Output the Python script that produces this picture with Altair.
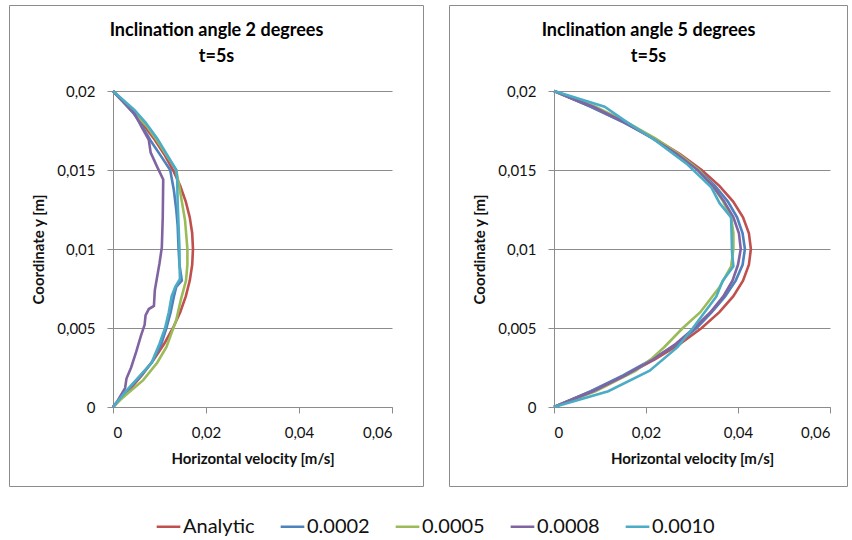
import altair as alt
import pandas as pd

SERIES = ["Analytic", "0.0002", "0.0005", "0.0008", "0.0010"]
COLORS = ["#C0504D", "#4F81BD", "#9BBB59", "#8064A2", "#4BACC6"]

Y21 = [0, 0.001, 0.002, 0.003, 0.004, 0.005, 0.006, 0.007, 0.008, 0.009, 0.010,
       0.011, 0.012, 0.013, 0.014, 0.015, 0.016, 0.017, 0.018, 0.019, 0.020]

# ---- Inclination angle 2 degrees ----
L_analytic_y = Y21
L_analytic_v = [0, 0.00327, 0.00619, 0.00877, 0.01101, 0.0129, 0.01445, 0.01565, 0.01651, 0.01703, 0.0172,
                0.01703, 0.01651, 0.01565, 0.01445, 0.0129, 0.01101, 0.00877, 0.00619, 0.00327, 0]

L_0002_y = [0, 0.0009, 0.002, 0.0028, 0.004, 0.005, 0.006, 0.007, 0.0076, 0.0080, 0.0090,
            0.0100, 0.0115, 0.0125, 0.0137, 0.0150, 0.0158, 0.0169, 0.0178, 0.0186, 0.0200]
L_0002_v = [0, 0.0026, 0.0060, 0.0083, 0.0104, 0.0115, 0.0124, 0.0131, 0.0136, 0.0148, 0.0143,
            0.0141, 0.0139, 0.0136, 0.0131, 0.0123, 0.0105, 0.0080, 0.0062, 0.0044, 0]

L_0005_y = [0, 0.00044, 0.0017, 0.0028, 0.0038, 0.0055, 0.0068, 0.0080, 0.0090, 0.0100,
            0.0118, 0.0137, 0.0150, 0.0158, 0.0169, 0.0178, 0.0186, 0.0200]
L_0005_v = [0, 0.0015, 0.0065, 0.0095, 0.0115, 0.0136, 0.0146, 0.0157, 0.0160, 0.0160,
            0.0155, 0.0144, 0.0136, 0.0118, 0.0094, 0.0072, 0.0047, 0]

L_0008_y = [0, 0.0004, 0.0012, 0.0018, 0.0025, 0.0035, 0.0045, 0.0052, 0.0058, 0.0062, 0.0064,
            0.0074, 0.0091, 0.0101, 0.0120, 0.0144, 0.0152, 0.0161, 0.0169, 0.0177, 0.0186, 0.0200]
L_0008_v = [0, 0.0010, 0.0026, 0.0029, 0.0039, 0.0050, 0.0060, 0.0068, 0.0070, 0.0077, 0.0088,
            0.0090, 0.0100, 0.0105, 0.0107, 0.0108, 0.0095, 0.0081, 0.0077, 0.0062, 0.0046, 0]

L_0010_y = [0, 0.001, 0.0028, 0.004, 0.005, 0.006, 0.007, 0.0076, 0.0081, 0.0090, 0.0100,
            0.0115, 0.0130, 0.0144, 0.0150, 0.0170, 0.0180, 0.0188, 0.0200]
L_0010_v = [0, 0.0028, 0.0083, 0.0100, 0.0112, 0.0120, 0.0126, 0.0134, 0.0144, 0.0143, 0.0143,
            0.0141, 0.0139, 0.0138, 0.0136, 0.0095, 0.0070, 0.0046, 0]

# ---- Inclination angle 5 degrees ----
R_analytic_y = Y21
R_analytic_v = [0, 0.00813, 0.01541, 0.02183, 0.02739, 0.0321, 0.03595, 0.03895, 0.04109, 0.04237, 0.0428,
                0.04237, 0.04109, 0.03895, 0.03595, 0.0321, 0.02739, 0.02183, 0.01541, 0.00813, 0]

R_0002_y = Y21
R_0002_v = [0, 0.0080, 0.0150, 0.0212, 0.0268, 0.0310, 0.0343, 0.0372, 0.0395, 0.0410, 0.0415,
            0.0410, 0.0398, 0.0378, 0.0350, 0.0315, 0.0270, 0.0216, 0.0152, 0.0080, 0]

R_0005_y = [0, 0.001, 0.0023, 0.003, 0.0038, 0.005, 0.006, 0.0076, 0.0089, 0.010, 0.011,
            0.012, 0.013, 0.014, 0.015, 0.016, 0.017, 0.018, 0.019, 0.020]
R_0005_v = [0, 0.0090, 0.0178, 0.0210, 0.0240, 0.0280, 0.0318, 0.0360, 0.0385, 0.0390, 0.0390,
            0.0385, 0.0368, 0.0345, 0.0315, 0.0272, 0.0220, 0.0160, 0.0090, 0]

R_0008_y = Y21
R_0008_v = [0, 0.0085, 0.0155, 0.0215, 0.0265, 0.0305, 0.0340, 0.0368, 0.0388, 0.0400, 0.0406,
            0.0402, 0.0390, 0.0370, 0.0345, 0.0312, 0.0268, 0.0214, 0.0155, 0.0085, 0]

R_0010_y = [0, 0.001, 0.0023, 0.0038, 0.005, 0.007, 0.008, 0.0089, 0.0098, 0.0110, 0.0120,
            0.0129, 0.0139, 0.0154, 0.0169, 0.0180, 0.0190, 0.0200]
R_0010_v = [0, 0.0118, 0.0208, 0.0269, 0.0302, 0.0353, 0.0367, 0.0390, 0.0387, 0.0386, 0.0385,
            0.0360, 0.0342, 0.0288, 0.0219, 0.0160, 0.0110, 0]

X_TICKS = [0, 0.02, 0.04, 0.06]
Y_TICKS = [0, 0.005, 0.01, 0.015, 0.02]

FONT = "Lato"
GRAY = "#8c8c8c"
LABEL_EXPR = "replace(format(datum.value, '.3~f'), '.', ',')"
LEG_X = 42
LEG_Y = 422


def build_df(parts):
    rows = []
    for name, ys, vs in parts:
        for y, v in zip(ys, vs):
            rows.append({"series": name, "y": y, "v": v})
    return pd.DataFrame(rows)


left_df = build_df([
    ("Analytic", L_analytic_y, L_analytic_v),
    ("0.0002", L_0002_y, L_0002_v),
    ("0.0005", L_0005_y, L_0005_v),
    ("0.0008", L_0008_y, L_0008_v),
    ("0.0010", L_0010_y, L_0010_v),
])
right_df = build_df([
    ("Analytic", R_analytic_y, R_analytic_v),
    ("0.0002", R_0002_y, R_0002_v),
    ("0.0005", R_0005_y, R_0005_v),
    ("0.0008", R_0008_y, R_0008_v),
    ("0.0010", R_0010_y, R_0010_v),
])


def panel(df, title, width, fx1, fx2):
    frame = alt.Chart(pd.DataFrame({"a": [0]})).mark_rect(
        fill="white", fillOpacity=0, stroke=GRAY, strokeWidth=1
    ).encode(
        x=alt.value(fx1), x2=alt.value(fx2), y=alt.value(-85.5), y2=alt.value(395.5)
    )
    legend = alt.Legend(
        title=None, orient="none", legendX=LEG_X, legendY=LEG_Y,
        direction="horizontal", columns=5,
    )
    color = alt.Color(
        "series:N", scale=alt.Scale(domain=SERIES, range=COLORS),
        sort=SERIES,
        legend=legend,
    )
    lines = alt.Chart(df).mark_line(strokeWidth=2.6).encode(
        x=alt.X("v:Q", scale=alt.Scale(domain=[0, 0.06], nice=False),
                axis=alt.Axis(values=X_TICKS, title="Horizontal velocity [m/s]",
                              labelExpr=LABEL_EXPR, grid=False, tickSize=6,
                              labelPadding=12, titlePadding=11)),
        y=alt.Y("y:Q", scale=alt.Scale(domain=[0, 0.02], nice=False),
                axis=alt.Axis(values=Y_TICKS, title="Coordinate y [m]",
                              labelExpr=LABEL_EXPR, grid=True, tickSize=6,
                              labelPadding=12, titlePadding=10)),
        color=color,
        order=alt.Order("y:Q"),
    )
    return alt.layer(frame, lines).properties(
        width=width, height=316,
        title=alt.TitleParams(
            text=title, anchor="middle", frame="bounds", baseline="top",
            offset=-61, fontSize=18, font=FONT, fontWeight="bold",
            lineHeight=26, color="black",
        ),
    )


left = panel(left_df, ["Inclination angle 2 degrees", "t=5s"], 279, -103.5, 310.5)
right = panel(right_df, ["Inclination angle 5 degrees", "t=5s"], 276, -104.5, 293.5)

chart = alt.hconcat(left, right, spacing=25).properties(
    padding={"left": 9, "top": 5, "right": 0, "bottom": 0},
    autosize=alt.AutoSizeParams(type="pad"),
    background="white",
).configure_view(stroke=None).configure_axis(
    domainColor=GRAY, tickColor=GRAY, gridColor=GRAY, domainWidth=1, gridWidth=1,
    labelFont=FONT, labelFontSize=15, labelColor="#111111",
    titleFont=FONT, titleFontSize=15, titleFontWeight="bold", titleColor="#111111",
).configure_legend(
    orient="none", legendX=LEG_X, legendY=LEG_Y, direction="horizontal", columns=5,
    symbolType="stroke", symbolStrokeWidth=2.5, symbolSize=560,
    labelFontSize=20, labelFont=FONT, labelColor="#111111",
    columnPadding=20, labelOffset=1, labelLimit=0,
)

chart.save("out.html", embed_options={"renderer": "svg", "actions": False})
